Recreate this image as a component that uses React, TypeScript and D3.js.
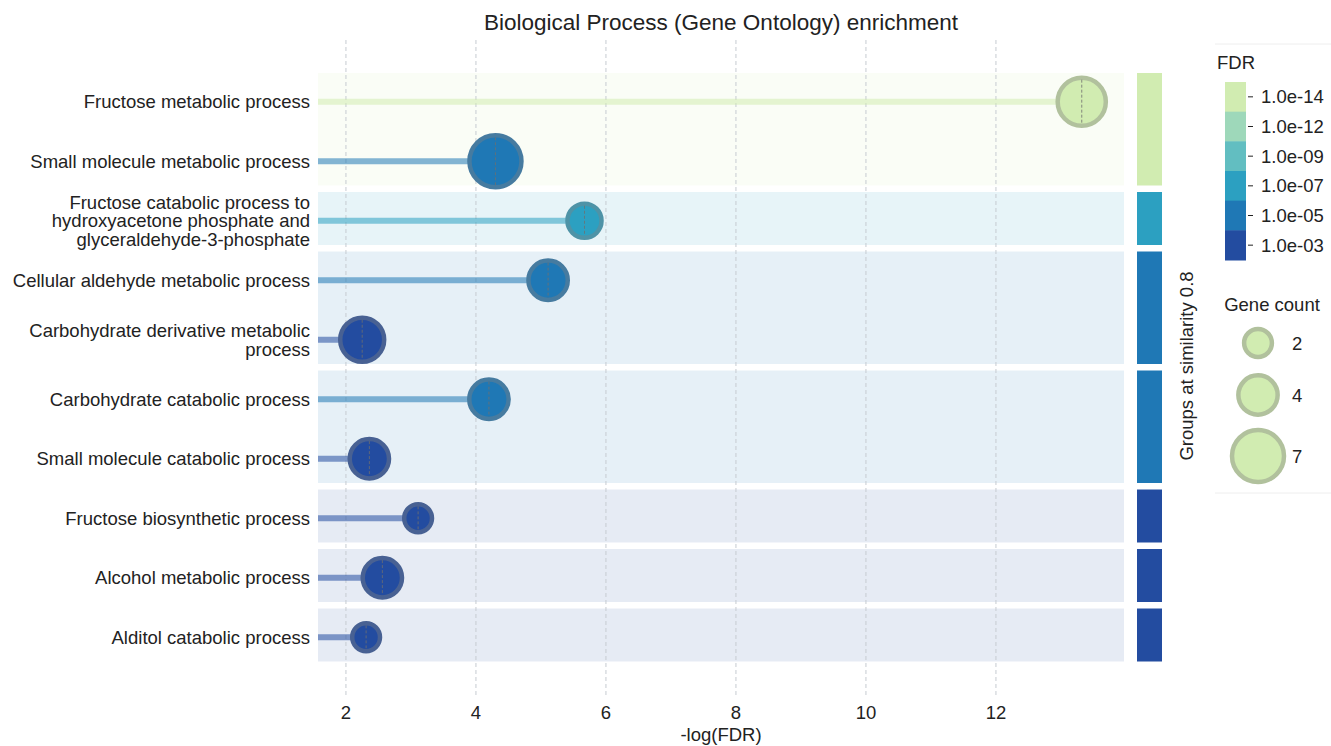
import { useEffect, useRef } from "react";
import * as d3 from "d3";

// GO enrichment lollipop chart
const terms = [
  "Fructose metabolic process",
  "Small molecule metabolic process",
  "Fructose catabolic process to\nhydroxyacetone phosphate and\nglyceraldehyde-3-phosphate",
  "Cellular aldehyde metabolic process",
  "Carbohydrate derivative metabolic\nprocess",
  "Carbohydrate catabolic process",
  "Small molecule catabolic process",
  "Fructose biosynthetic process",
  "Alcohol metabolic process",
  "Alditol catabolic process",
];
const negLogFdr = [13.32, 4.3, 5.67, 5.11, 2.25, 4.2, 2.36, 3.11, 2.56, 2.31];
const geneCounts = [6, 7, 3, 4, 5, 4, 4, 2, 4, 2];
const groups = [0, 0, 1, 2, 2, 3, 3, 4, 5, 6];

const xTicks = [2, 4, 6, 8, 10, 12];
const fdrLabels = ["1.0e-14", "1.0e-12", "1.0e-09", "1.0e-07", "1.0e-05", "1.0e-03"];
const fdrColors = ["#d1ecb1", "#9ed8ba", "#62bec1", "#2ca0c1", "#1f78b5", "#234ca0"];
const countLegend = [2, 4, 7];

const FONT = "'Liberation Sans', Arial, sans-serif";
const FS = 18.5; // label font size

export default function App() {
  const svgRef = useRef<SVGSVGElement>(null);
  const width = 1331;
  const height = 746;

  useEffect(() => {
    const svg = d3.select(svgRef.current);
    svg.selectAll("*").remove();

    const x = d3.scaleLinear().domain([1.57, 13.97]).range([318, 1124]);
    const y = d3.scaleBand<number>().domain(d3.range(terms.length)).range([72, 667]);
    const bw = y.bandwidth();
    const cy = (i: number) => (y(i) as number) + bw / 2;
    const r = d3.scaleSqrt().domain([0, 7]).range([0, 26]);
    // thresholds on -log(FDR), darkest first
    const color = d3
      .scaleThreshold<number, string>()
      .domain([4, 5.5, 8, 11, 13])
      .range(fdrColors.slice().reverse());
    const ring = (c: string) => d3.interpolateRgb(c, "#808080")(0.4);

    // title
    svg.append("text")
      .attr("x", 721).attr("y", 30)
      .attr("text-anchor", "middle")
      .attr("font-size", 22.5).attr("fill", "#222")
      .text("Biological Process (Gene Ontology) enrichment");

    // group bands + right side bar
    const groupIds = Array.from(new Set(groups));
    groupIds.forEach((g) => {
      const rows = d3.range(terms.length).filter((i) => groups[i] === g);
      const top = (y(rows[0]) as number) + 1;
      const bottom = (y(rows[rows.length - 1]) as number) + bw - 5.5;
      const best = d3.max(rows, (i) => negLogFdr[i]) as number;
      const c = color(best);
      svg.append("rect")
        .attr("x", x.range()[0]).attr("y", top)
        .attr("width", x.range()[1] - x.range()[0]).attr("height", bottom - top)
        .attr("fill", c).attr("fill-opacity", 0.115);
      svg.append("rect")
        .attr("x", 1137).attr("y", top)
        .attr("width", 25).attr("height", bottom - top)
        .attr("fill", c);
    });

    // grid lines
    svg.append("g").selectAll("line").data(xTicks).join("line")
      .attr("x1", (d) => x(d)).attr("x2", (d) => x(d))
      .attr("y1", 40).attr("y2", 697)
      .attr("stroke", "#c6cbd1").attr("stroke-dasharray", "4,3");

    svg.append("g").selectAll("text").data(xTicks).join("text")
      .attr("x", (d) => x(d)).attr("y", 719)
      .attr("text-anchor", "middle").attr("font-size", FS).attr("fill", "#222")
      .text((d) => d);

    svg.append("text")
      .attr("x", 721).attr("y", 741)
      .attr("text-anchor", "middle").attr("font-size", FS).attr("fill", "#222")
      .text("-log(FDR)");

    // stems
    svg.append("g").selectAll("line").data(negLogFdr).join("line")
      .attr("x1", x.range()[0]).attr("x2", (d) => x(d))
      .attr("y1", (_, i) => cy(i)).attr("y2", (_, i) => cy(i))
      .attr("stroke", (d) => color(d)).attr("stroke-opacity", 0.55)
      .attr("stroke-width", 6);

    // bubbles
    const dots = svg.append("g").selectAll("g").data(negLogFdr).join("g");
    dots.append("circle")
      .attr("cx", (d) => x(d)).attr("cy", (_, i) => cy(i))
      .attr("r", (_, i) => r(geneCounts[i]))
      .attr("fill", (d) => color(d))
      .attr("stroke", (d) => ring(color(d)))
      .attr("stroke-width", 4.5);
    dots.append("line")
      .attr("x1", (d) => x(d)).attr("x2", (d) => x(d))
      .attr("y1", (_, i) => cy(i) - r(geneCounts[i]) + 2)
      .attr("y2", (_, i) => cy(i) + r(geneCounts[i]) - 2)
      .attr("stroke", "#6f6f6f").attr("stroke-opacity", 0.8)
      .attr("stroke-dasharray", "3,2");

    // term labels
    const lab = svg.append("g").selectAll("text").data(terms).join("text")
      .attr("text-anchor", "end").attr("font-size", FS).attr("fill", "#222")
      .attr("y", (_, i) => cy(i));
    lab.each(function (d) {
      const lines = d.split("\n");
      const t = d3.select(this);
      lines.forEach((l, k) => {
        t.append("tspan")
          .attr("x", 310)
          .attr("dy", k === 0 ? `${6.5 - ((lines.length - 1) * 18.5) / 2}` : "18.5")
          .text(l);
      });
    });

    svg.append("text")
      .attr("transform", "translate(1193,366) rotate(-90)")
      .attr("text-anchor", "middle").attr("font-size", FS).attr("fill", "#222")
      .text("Groups at similarity 0.8");

    // legend
    const lg = svg.append("g");
    lg.append("line").attr("x1", 1215).attr("x2", 1331).attr("y1", 44).attr("y2", 44)
      .attr("stroke", "#eee");
    lg.append("line").attr("x1", 1215).attr("x2", 1331).attr("y1", 493).attr("y2", 493)
      .attr("stroke", "#eee");
    lg.append("text").attr("x", 1217).attr("y", 69)
      .attr("font-size", FS).attr("fill", "#222").text("FDR");

    const ly = d3.scaleBand<number>().domain(d3.range(fdrColors.length)).range([82, 260]);
    lg.selectAll("rect.c").data(fdrColors).join("rect")
      .attr("x", 1225).attr("y", (_, i) => ly(i) as number)
      .attr("width", 21).attr("height", ly.bandwidth() + 0.5)
      .attr("fill", (d) => d);
    lg.selectAll("line.t").data(fdrLabels).join("line")
      .attr("x1", 1248).attr("x2", 1253)
      .attr("y1", (_, i) => (ly(i) as number) + ly.bandwidth() / 2)
      .attr("y2", (_, i) => (ly(i) as number) + ly.bandwidth() / 2)
      .attr("stroke", "#222");
    lg.selectAll("text.t").data(fdrLabels).join("text")
      .attr("x", 1261)
      .attr("y", (_, i) => (ly(i) as number) + ly.bandwidth() / 2 + 6.5)
      .attr("font-size", FS).attr("fill", "#222")
      .text((d) => d);

    lg.append("text").attr("x", 1272).attr("y", 311).attr("text-anchor", "middle")
      .attr("font-size", FS).attr("fill", "#222").text("Gene count");
    const cyL = [343, 395, 456];
    countLegend.forEach((c, i) => {
      lg.append("circle")
        .attr("cx", 1258).attr("cy", cyL[i]).attr("r", r(c))
        .attr("fill", fdrColors[0]).attr("stroke", ring(fdrColors[0]))
        .attr("stroke-width", 4.5);
      lg.append("text")
        .attr("x", 1292).attr("y", cyL[i] + 6.5)
        .attr("font-size", FS).attr("fill", "#222").text(c);
    });
  }, []);

  return (
    <svg
      ref={svgRef}
      width={width}
      height={height}
      style={{ position: "absolute", left: 0, top: 0, background: "#fff", fontFamily: FONT }}
    />
  );
}
